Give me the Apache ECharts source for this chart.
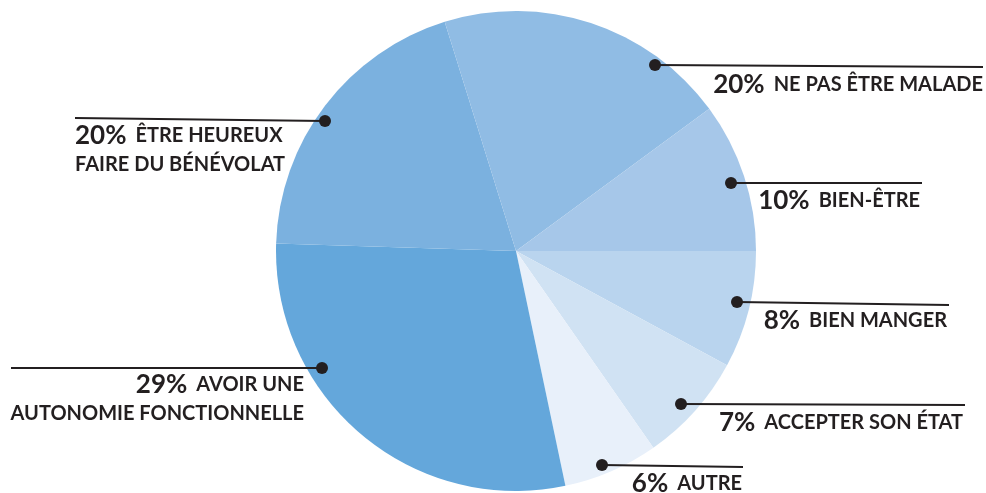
<!DOCTYPE html>
<html>
<head>
<meta charset="utf-8">
<script src="https://cdn.jsdelivr.net/npm/echarts@6/dist/echarts.min.js"></script>
<style>
html,body{margin:0;padding:0;background:#fff;}
#c{width:986px;height:493px;}
</style>
</head>
<body>
<div id="c"></div>
<script>
// Data (clockwise from 3 o'clock)
const categories = [
  'BIEN MANGER',
  'ACCEPTER SON ÉTAT',
  'AUTRE',
  'AVOIR UNE\nAUTONOMIE FONCTIONNELLE',
  'ÊTRE HEUREUX\nFAIRE DU BÉNÉVOLAT',
  'NE PAS ÊTRE MALADE',
  'BIEN-ÊTRE'
];
const percentLabels = ['8%', '7%', '6%', '29%', '20%', '20%', '10%'];
const values = [7.9, 7.4, 6.4, 28.8, 19.7, 19.7, 10.1];
const colors = ['#b9d4ee', '#d0e2f3', '#e8f0fa', '#64a7db', '#7bb1df', '#90bce4', '#a6c7e9'];

// Annotation layout: dot anchor, line end, text anchor
const annot = [
  {dot:[737,302], end:[949,305], tx:947, ty:306, align:'right'},
  {dot:[681,404], end:[965,405], tx:963, ty:408, align:'right'},
  {dot:[602,465], end:[743,467], tx:742, ty:469, align:'right'},
  {dot:[322,368], end:[11,368],  tx:304, ty:370, align:'right'},
  {dot:[325,121], end:[75,118],  tx:75,  ty:121, align:'left'},
  {dot:[655,65],  end:[983,67],  tx:983, ty:70,  align:'right'},
  {dot:[731,183], end:[922,183], tx:920, ty:186, align:'right'}
];

const chart = echarts.init(document.getElementById('c'), null, {renderer:'canvas'});
const txt = '#231f20';
const FONT = 'Lato, "Open Sans", sans-serif';

const graphics = [];
annot.forEach(a => {
  graphics.push({
    type: 'polyline',
    shape: {points: [a.dot, a.end]},
    style: {stroke: txt, lineWidth: 2.2, fill: null},
    z: 99
  });
  graphics.push({
    type: 'circle',
    shape: {cx: a.dot[0], cy: a.dot[1], r: 6},
    style: {fill: txt},
    z: 100
  });
});

chart.setOption({
  animation: false,
  backgroundColor: '#fff',
  series: [{
    type: 'pie',
    center: [516, 251],
    radius: 240,
    startAngle: 0,
    clockwise: true,
    avoidLabelOverlap: false,
    itemStyle: {borderWidth: 0},
    emphasis: {disabled: true},
    data: values.map((v, i) => ({
      value: v,
      name: categories[i],
      itemStyle: {color: colors[i]}
    })),
    label: {
      show: true,
      position: 'outside',
      formatter: function (p) {
        const parts = categories[p.dataIndex].split('\n');
        let s = '{p|' + percentLabels[p.dataIndex] + '}{t|' + parts[0] + '}';
        for (let k = 1; k < parts.length; k++) s += '\n{t|' + parts[k] + '}';
        return s;
      },
      lineHeight: 29,
      rich: {
        p: {fontFamily: FONT, fontSize: 26, fontWeight: 'bold', color: txt, lineHeight: 29, padding: [0, 9, 0, 0]},
        t: {fontFamily: FONT, fontSize: 20, fontWeight: 'bold', color: txt, lineHeight: 29}
      }
    },
    labelLine: {show: false},
    labelLayout: function (params) {
      const a = annot[params.dataIndex];
      return {x: a.tx, y: a.ty, align: a.align, verticalAlign: 'top'};
    }
  }],
  graphic: graphics
});
</script>
</body>
</html>
